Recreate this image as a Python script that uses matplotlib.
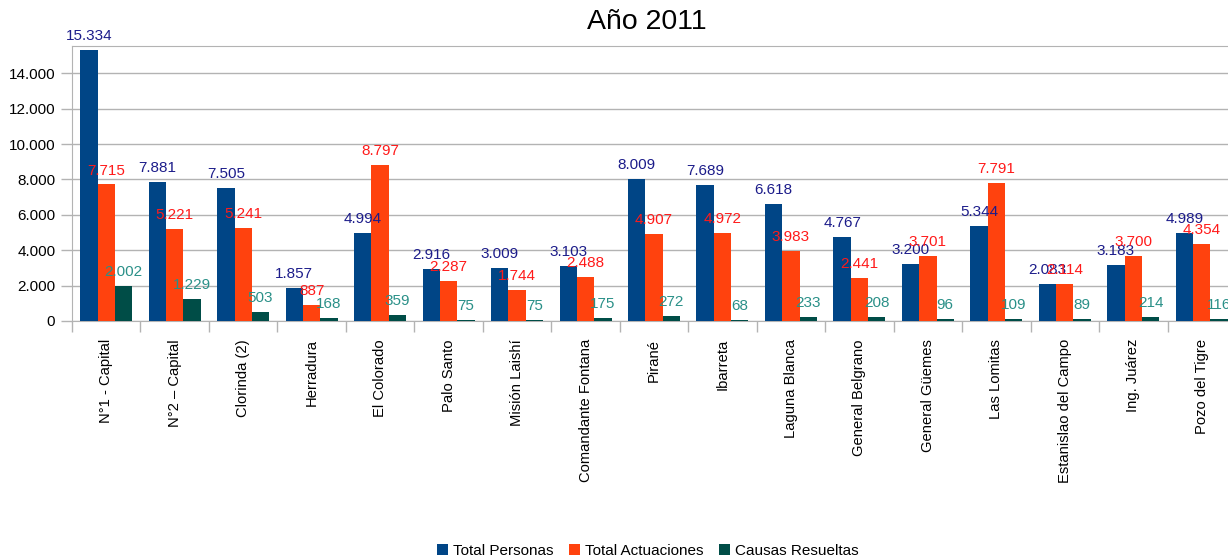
import numpy as np
import matplotlib.pyplot as plt

plt.rcParams['font.family'] = ['Liberation Sans', 'DejaVu Sans']

categorias = ['N°1 - Capital', 'N°2 – Capital', 'Clorinda (2)', 'Herradura', 'El Colorado',
              'Palo Santo', 'Misión Laishí', 'Comandante Fontana', 'Pirané', 'Ibarreta',
              'Laguna Blanca', 'General Belgrano', 'General Güemes', 'Las Lomitas',
              'Estanislao del Campo', 'Ing. Juárez', 'Pozo del Tigre']
total_personas = [15334, 7881, 7505, 1857, 4994, 2916, 3009, 3103, 8009, 7689,
                  6618, 4767, 3200, 5344, 2083, 3183, 4989]
total_actuaciones = [7715, 5221, 5241, 887, 8797, 2287, 1744, 2488, 4907, 4972,
                     3983, 2441, 3701, 7791, 2114, 3700, 4354]
causas_resueltas = [2002, 1229, 503, 168, 359, 75, 75, 175, 272, 68,
                    233, 208, 96, 109, 89, 214, 116]
series_nombres = ['Total Personas', 'Total Actuaciones', 'Causas Resueltas']

colores = ['#004586', '#ff420e', '#004d47']
colores_txt = ['#1c1c8a', '#ff1a1a', '#2a9088']

W, H = 1228, 559
fig = plt.figure(figsize=(W / 100, H / 100), dpi=100)
# plot area runs a little past the right edge, like the original
ax = fig.add_axes([72 / W, 1 - 321 / H, 1164 / W, 275 / H])

x = np.arange(len(categorias))
bw = 0.253
for i, vals in enumerate([total_personas, total_actuaciones, causas_resueltas]):
    pos = x + (i - 1) * bw
    ax.bar(pos, vals, width=bw, color=colores[i], label=series_nombres[i], zorder=3)
    for p, v in zip(pos, vals):
        ax.annotate(f'{v:,}'.replace(',', '.'), (p, v), xytext=(0, 5),
                    textcoords='offset points', ha='center', va='bottom',
                    fontsize=11, color=colores_txt[i], zorder=4)

ax.set_xlim(-0.5, len(categorias) - 0.5)
ax.set_ylim(0, 15540)
ax.set_yticks(np.arange(0, 16000, 2000))
ax.set_yticklabels([f'{v:,}'.replace(',', '.') for v in range(0, 16000, 2000)], fontsize=11)
ax.grid(axis='y', color='#b3b3b3', linewidth=1, zorder=0)

ax.set_xticks(x)
ax.set_xticklabels(categorias, rotation=90, fontsize=10.6, va='top')
ax.tick_params(axis='x', length=0, pad=13)
ax.set_xticks(np.arange(-0.5, len(categorias), 1), minor=True)
ax.tick_params(axis='x', which='minor', length=8, color='#b3b3b3', width=1)
ax.tick_params(axis='y', length=8, color='#b3b3b3', width=1, pad=4)

for s in ['left', 'top', 'bottom']:
    ax.spines[s].set_color('#b3b3b3')
ax.spines['right'].set_visible(False)

fig.text(647 / W, 1 - 22 / H, 'Año 2011', ha='center', va='center', fontsize=20.5)

fig.legend(loc='center', bbox_to_anchor=(648 / W, 1 - 551 / H), ncol=3, frameon=False,
           fontsize=11, handlelength=0.7, handleheight=0.7, handletextpad=0.35,
           columnspacing=1.0, borderpad=0.2)

fig.savefig('out.png', dpi=100)
